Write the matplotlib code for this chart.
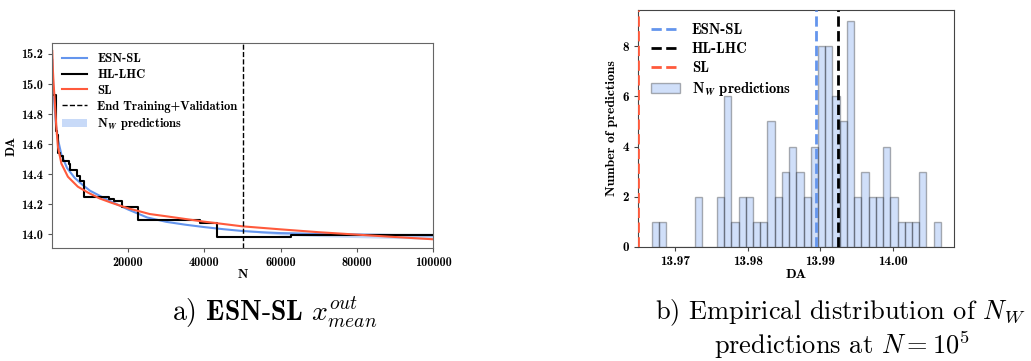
import numpy as np
import matplotlib
matplotlib.use("Agg")
import matplotlib.pyplot as plt

plt.rcParams['mathtext.fontset'] = 'cm'
plt.rcParams['axes.formatter.use_mathtext'] = True
plt.rcParams['font.family'] = ['cmb10', 'DejaVu Serif']
plt.rcParams['axes.unicode_minus'] = False

# ---------------- data: panel a ----------------
blue_N = [100, 250, 450, 700, 1100, 1600, 2500, 4000, 6000, 8000, 10000, 12500,
          15000, 20000, 25000, 30000, 35000, 40000, 45000, 50000, 55000, 60000,
          70000, 80000, 90000, 100000]
blue_DA = [15.16, 15.05, 14.95, 14.85, 14.72, 14.63, 14.53, 14.44, 14.375, 14.33,
           14.29, 14.257, 14.224, 14.165, 14.112, 14.083, 14.064, 14.048, 14.034,
           14.022, 14.014, 14.008, 14.002, 13.998, 13.995, 13.993]

red_N = [100, 250, 450, 700, 1150, 1600, 2500, 4200, 6800, 9500, 12500, 15600,
         20000, 25650, 30000, 40000, 50000, 60000, 70000, 80000, 90000, 100000]
red_DA = [15.22, 15.10, 15.00, 14.91, 14.72, 14.58, 14.47, 14.383, 14.317, 14.277,
          14.239, 14.21, 14.173, 14.135, 14.12, 14.084, 14.053, 14.033, 14.014,
          13.998, 13.982, 13.967]

hl_N = [300, 1150, 1400, 1600, 2000, 2900, 4400, 4800, 6550, 7250, 8300, 15100,
        16400, 18500, 22600, 38900, 43300, 62800, 100000]
hl_DA = [14.93, 14.69, 14.66, 14.54, 14.52, 14.49, 14.47, 14.43, 14.385, 14.355,
         14.245, 14.235, 14.22, 14.185, 14.095, 14.078, 13.985, 13.993, 13.993]

band_N = [50000, 55000, 60000, 70000, 80000, 90000, 100000]
band_lo = [14.022, 14.008, 13.996, 13.985, 13.978, 13.972, 13.968]
band_hi = [14.022, 14.018, 14.017, 14.012, 14.009, 14.007, 14.0066]

N_end_training = 50000

# ---------------- data: panel b ----------------
hist_min, hist_max, hist_nbins = 13.9668, 14.0066, 40
hist_counts = [1, 1, 0, 0, 0, 0, 2, 0, 0, 2, 6, 1, 2, 2, 1, 1, 5, 2, 3, 4,
               3, 2, 4, 8, 8, 6, 5, 9, 2, 3, 2, 2, 4, 2, 1, 1, 1, 3, 0, 1]
esn_final = 13.9894
hl_final = 13.9924
sl_final = 13.9649

c_blue = '#6495ED'
c_red = '#FF5a3c'
nw_label = r'N$_{\boldsymbol{W}}$ predictions'

fig = plt.figure(figsize=(10.31, 3.61), dpi=100)

# ---------------- panel a ----------------
ax1 = fig.add_axes([0.0507, 0.3122, 0.3695, 0.5679])
ax1.fill_between(band_N, band_lo, band_hi, color=c_blue, alpha=0.35, lw=0,
                 label=nw_label)
ax1.plot(blue_N, blue_DA, color=c_blue, lw=1.5, label='ESN-SL')
ax1.plot(hl_N, hl_DA, color='black', lw=1.5, drawstyle='steps-post', label='HL-LHC')
ax1.plot(red_N, red_DA, color=c_red, lw=1.5, label='SL')
ax1.axvline(N_end_training, color='black', ls='--', lw=1.0,
            label='End Training+Validation')
handles, labels = ax1.get_legend_handles_labels()
order = ['ESN-SL', 'HL-LHC', 'SL', 'End Training+Validation', nw_label]
hd = dict(zip(labels, handles))
ax1.legend([hd[k] for k in order], order, loc='upper left', frameon=False,
           fontsize=9, handlelength=2.0, labelspacing=0.3, borderaxespad=0.4)
ax1.set_xlim(100, 100000)
ax1.set_ylim(13.907, 15.271)
ax1.set_xticks([20000, 40000, 60000, 80000, 100000])
ax1.set_yticks([14.0, 14.2, 14.4, 14.6, 14.8, 15.0, 15.2])
ax1.set_yticklabels(['14.0', '14.2', '14.4', '14.6', '14.8', '15.0', '15.2'])
ax1.set_xticklabels(['20000', '40000', '60000', '80000', '100000'])
ax1.tick_params(labelsize=8.8, length=3, color='#555555')
ax1.set_xlabel('N', fontsize=9.5, labelpad=0)
ax1.set_ylabel('DA', fontsize=9.5, labelpad=3)
for s in ax1.spines.values():
    s.set_color('#666666')

# ---------------- panel b ----------------
ax2 = fig.add_axes([0.6188, 0.3166, 0.3065, 0.6557])
edges = np.linspace(hist_min, hist_max, hist_nbins + 1)
centers = 0.5 * (edges[:-1] + edges[1:])
ax2.hist(centers, bins=edges, weights=hist_counts, color=c_blue, alpha=0.3,
         edgecolor='black', linewidth=1.0, label=nw_label, zorder=1)
ax2.axvline(esn_final, color=c_blue, ls='--', lw=2.0, label='ESN-SL', zorder=3)
ax2.axvline(hl_final, color='black', ls='--', lw=2.0, label='HL-LHC', zorder=3)
ax2.axvline(sl_final, color=c_red, ls='--', lw=2.0, label='SL', zorder=3)
handles, labels = ax2.get_legend_handles_labels()
order2 = ['ESN-SL', 'HL-LHC', 'SL', nw_label]
hd2 = dict(zip(labels, handles))
ax2.legend([hd2[k] for k in order2], order2, loc='upper left', frameon=False,
           fontsize=10.5, handlelength=2.0, labelspacing=0.35, borderaxespad=0.5)
ax2.set_xlim(13.9649, 14.0084)
ax2.set_ylim(0, 9.45)
ax2.set_xticks([13.97, 13.98, 13.99, 14.00])
ax2.set_xticklabels(['13.97', '13.98', '13.99', '14.00'])
ax2.set_yticks([0, 2, 4, 6, 8])
ax2.set_yticklabels(['0', '2', '4', '6', '8'])
ax2.tick_params(labelsize=9.5, length=3, color='#444444')
ax2.set_xlabel('DA', fontsize=10, labelpad=1)
ax2.set_ylabel('Number of predictions', fontsize=9.8, labelpad=3)
for s in ax2.spines.values():
    s.set_color('#444444')

# ---------------- captions ----------------
fig.text(275 / 1031, 1 - 313 / 361, r'a) $\mathbf{ESN}$-$\mathbf{SL}$ $x^{out}_{mean}$',
         family='cmr10', fontsize=20, ha='center', va='center')
fig.text(840 / 1031, 1 - 313 / 361, r'b) Empirical distribution of $N_W$',
         family='cmr10', fontsize=19, ha='center', va='center')
fig.text(842 / 1031, 1 - 345 / 361, r'predictions at $N = 10^5$',
         family='cmr10', fontsize=19, ha='center', va='center')

fig.savefig('out.png', dpi=100)
